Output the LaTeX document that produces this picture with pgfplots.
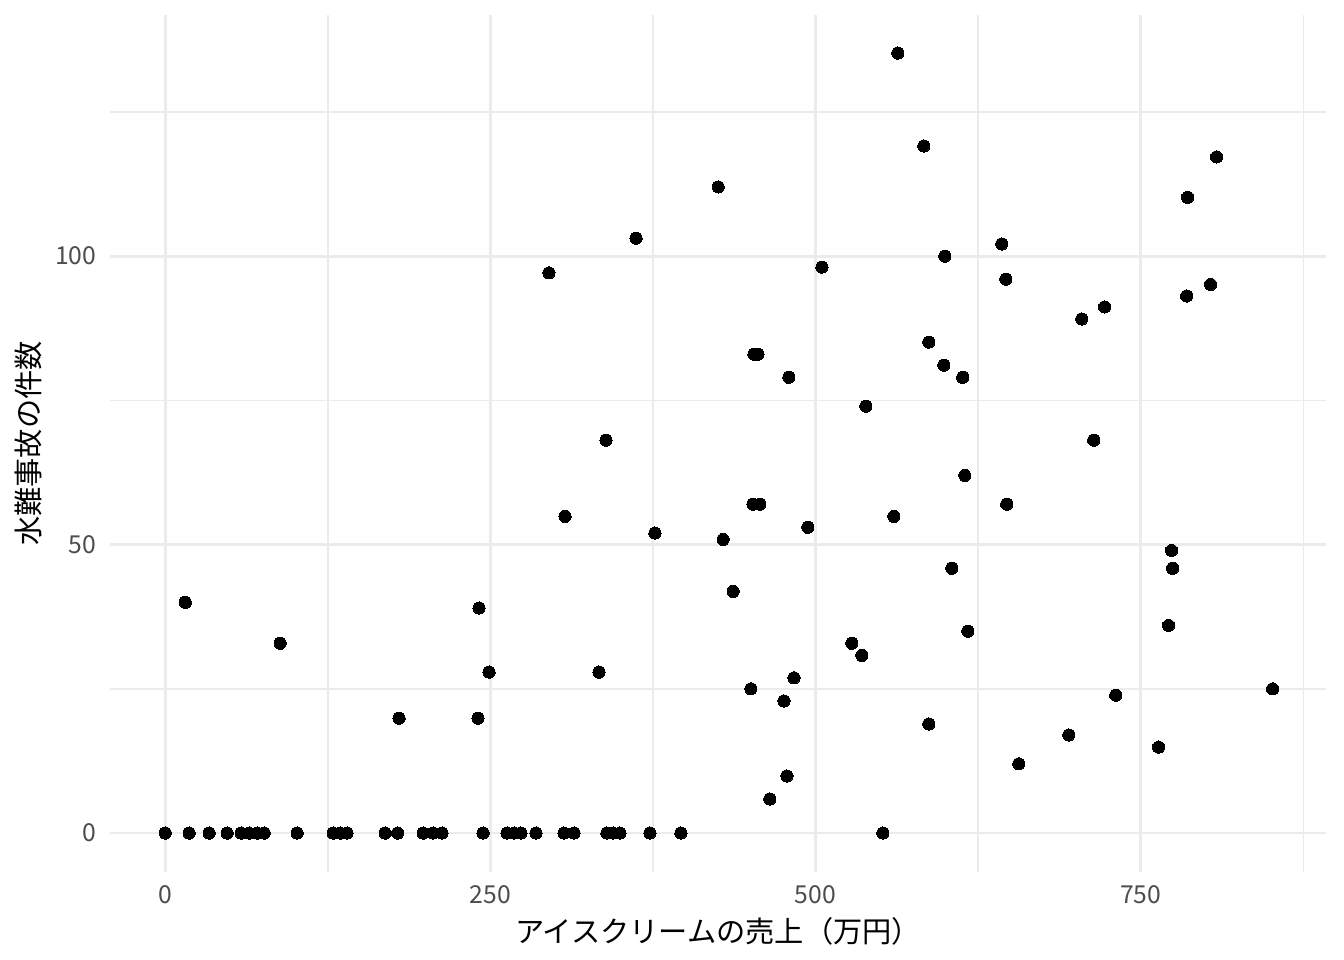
\documentclass[border=0pt]{standalone}
\usepackage{fontspec}
\setmainfont{Noto Sans CJK JP}
\usepackage{pgfplots}
\pgfplotsset{compat=1.18}
\definecolor{gridc}{HTML}{EBEBEB}
\definecolor{tickc}{HTML}{4D4D4D}
\newcommand{\tickfont}{\fontsize{9.3}{11}\selectfont}
\newcommand{\labfont}{\fontsize{11}{13}\selectfont}
\begin{document}
\begin{tikzpicture}
\useasboundingbox (0,0) rectangle (505.89pt,361.35pt);
\begin{axis}[
  at={(41.4pt,33.1pt)}, anchor=south west,
  scale only axis, width=457.7pt, height=322.6pt,
  xmin=-42.5, xmax=892.5, ymin=-6.76, ymax=141.8,
  axis line style={draw=none},
  xtick={0,250,500,750}, ytick={0,50,100},
  xticklabels={{\tickfont 0},{\tickfont 250},{\tickfont 500},{\tickfont 750}},
  yticklabels={{\tickfont 0},{\tickfont 50},{\tickfont 100}},
  minor xtick={125,375,625,875}, minor ytick={25,75,125},
  major tick length=0pt, minor tick length=0pt,
  grid=both,
  major grid style={draw=gridc, line width=1.07pt},
  minor grid style={draw=gridc, line width=0.53pt},
  ticklabel style={text=tickc, inner sep=0pt},
  xticklabel shift=5pt, yticklabel shift=5pt,
  xlabel={\labfont アイスクリームの売上（万円）},
  ylabel={\labfont 水難事故の件数},
  every axis x label/.style={at={(axis description cs:0.5,-0.0688)}, anchor=center, text=black},
  every axis y label/.style={at={(axis description cs:-0.0674,0.5)}, rotate=90, anchor=center, text=black},
]
\addplot[only marks, mark=*, mark size=2.3pt, mark options={fill=black, draw=black, line width=0pt}] coordinates {
(0,0) (0,0) (18.4,0) (33.8,0) (47.6,0) (58.4,0) (64.5,0) (70.7,0) (76.1,0)
(101.4,0) (129.1,0) (134.5,0) (139.8,0) (169.1,0) (178.7,0) (198.3,0)
(205.9,0) (212.8,0) (244.4,0) (262.8,0) (268.2,0) (273.5,0) (285.1,0)
(306.6,0) (314.3,0) (339.6,0) (344.3,0) (349.6,0) (372.7,0) (396.5,0) (551.8,0)
(15.4,40.0) (88.4,32.9) (179.8,19.9) (241.3,39.0) (240.5,19.9) (249,27.9)
(295,97.1) (307.4,54.9) (333.5,27.9) (338.9,68.1) (362,103.1) (376.5,52.0)
(425.2,112.0) (429.0,50.9) (436.7,41.9) (450.3,25.0) (452.6,83.0) (455.7,83.0)
(451.9,57.0) (457.2,57.0) (475.7,22.9) (478,9.9) (479.5,79.0) (483.4,26.9)
(464.9,5.9) (494.1,53.0) (504.9,98.1) (527.9,32.9) (535.6,30.8) (538.7,74.0)
(560.2,54.9) (563.3,135.2) (583.3,119.1) (587.1,85.1) (587.1,18.9) (598.6,81.1)
(599.4,100.0) (604.8,45.9) (613.2,79.0) (614.8,62.0) (617.1,35.0) (643.2,102.1)
(646.3,96.0) (647.0,57.0) (656.3,12.0) (694.7,17.0) (704.7,89.1) (713.9,68.1)
(722.3,91.2) (730.8,23.9) (763.8,14.9) (771.5,36.0) (773.8,49.0) (774.6,45.9)
(785.4,93.1) (786.1,110.2) (803.8,95.1) (808.4,117.2) (851.5,25.0)
};
\end{axis}
\end{tikzpicture}
\end{document}
